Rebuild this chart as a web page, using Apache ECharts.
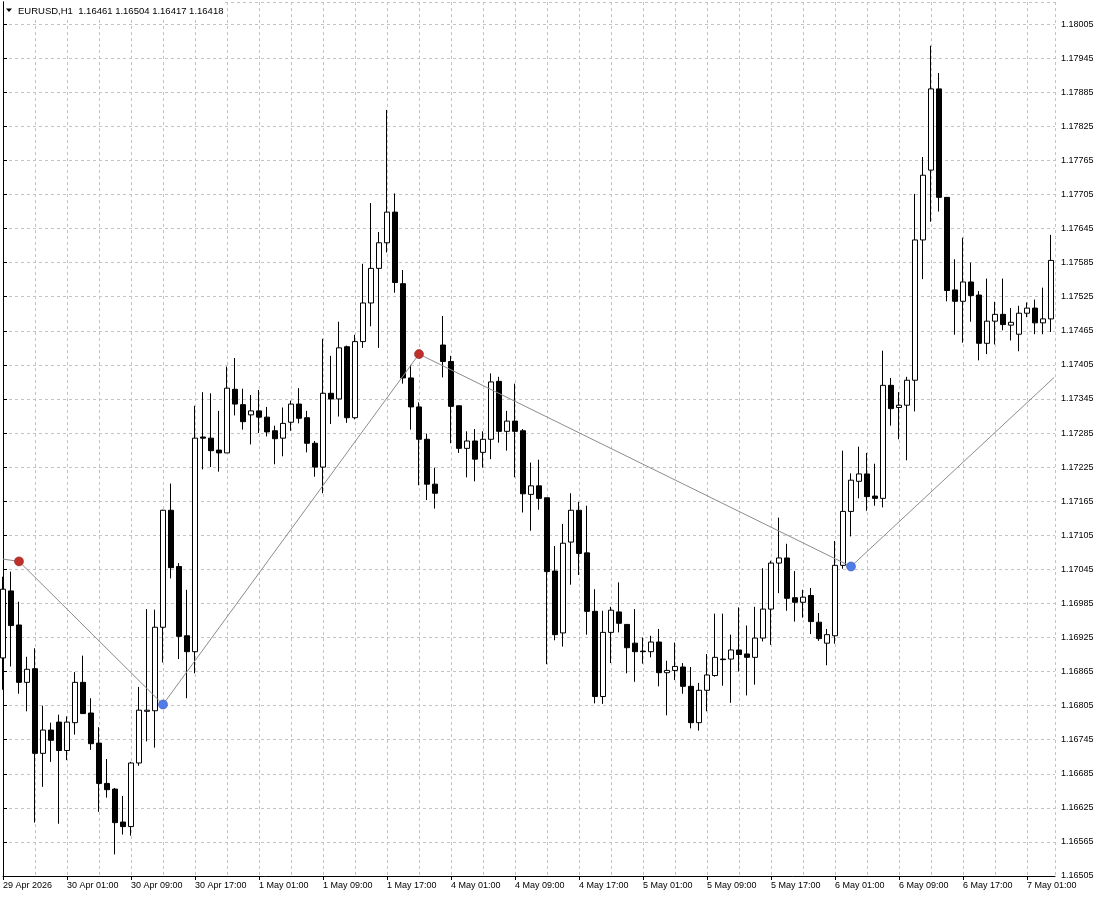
<!DOCTYPE html>
<html>
<head>
<meta charset="utf-8">
<script src="https://cdn.jsdelivr.net/npm/echarts/dist/echarts.min.js"></script>
<style>
  html, body { margin: 0; padding: 0; background: #ffffff; }
  #chart { width: 1100px; height: 900px; }
</style>
</head>
<body>
<div id="chart"></div>
<script>
// ---------- data ----------
const symbolName = 'EURUSD,H1';
const headerValues = ['1.16461', '1.16504', '1.16417', '1.16418'];

// hourly bars: [day label, first hour, last hour]
const daySegments = [
  ['29 Apr', 17, 23],
  ['30 Apr', 0, 23],
  ['1 May', 0, 23],
  ['4 May', 0, 23],
  ['5 May', 0, 23],
  ['6 May', 0, 23],
  ['7 May', 0, 4]
];
const firstLabel = '29 Apr 2026';

const openPrices = [
  1.16889,1.17007,1.16947,1.16846,1.16870,1.16721,1.16762,1.16776,1.16726,1.16775,
  1.16846,1.16792,1.16739,1.16668,1.16658,1.16600,1.16592,1.16704,1.16795,1.16796,
  1.16943,1.17149,1.17050,1.16928,1.16900,1.17278,1.17276,1.17255,1.17250,1.17362,
  1.17335,1.17317,1.17324,1.17313,1.17289,1.17276,1.17304,1.17336,1.17312,1.17267,
  1.17225,1.17355,1.17345,1.17437,1.17312,1.17446,1.17514,1.17575,1.17620,1.17674,
  1.17548,1.17382,1.17331,1.17274,1.17195,1.17440,1.17411,1.17333,1.17258,1.17271,
  1.17251,1.17274,1.17376,1.17288,1.17306,1.17289,1.17177,1.17192,1.17171,1.17042,
  1.16933,1.17093,1.17149,1.17074,1.16971,1.16821,1.16934,1.16970,1.16948,1.16915,
  1.16901,1.16900,1.16917,1.16863,1.16867,1.16873,1.16839,1.16775,1.16832,1.16858,
  1.16887,1.16887,1.16903,1.16896,1.16890,1.16924,1.16975,1.17056,1.17065,1.16995,
  1.16987,1.16999,1.16952,1.16915,1.16928,1.17052,1.17147,1.17200,1.17213,1.17174,
  1.17170,1.17369,1.17330,1.17334,1.17378,1.17625,1.17748,1.17891,1.17700,1.17537,
  1.17517,1.17551,1.17528,1.17443,1.17482,1.17494,1.17475,1.17459,1.17496,1.17505,
  1.17479,1.17486
];
const highPrices = [
  1.17032,1.17041,1.16988,1.16891,1.16906,1.16805,1.16775,1.16789,1.16786,1.16864,
  1.16893,1.16818,1.16767,1.16711,1.16660,1.16646,1.16706,1.16838,1.16975,1.16974,
  1.17150,1.17196,1.17056,1.17009,1.17333,1.17357,1.17355,1.17324,1.17402,1.17417,
  1.17363,1.17352,1.17361,1.17331,1.17298,1.17330,1.17342,1.17364,1.17324,1.17271,
  1.17451,1.17421,1.17481,1.17439,1.17458,1.17583,1.17690,1.17639,1.17854,1.17707,
  1.17572,1.17405,1.17339,1.17284,1.17224,1.17491,1.17421,1.17333,1.17288,1.17292,
  1.17288,1.17390,1.17384,1.17324,1.17372,1.17292,1.17233,1.17238,1.17171,1.17086,
  1.17125,1.17179,1.17164,1.17157,1.17010,1.16972,1.16979,1.17022,1.16948,1.16975,
  1.16925,1.16928,1.16940,1.16884,1.16916,1.16880,1.16873,1.16845,1.16896,1.16967,
  1.16967,1.16930,1.16978,1.16946,1.16979,1.17047,1.17060,1.17136,1.17090,1.17042,
  1.17009,1.17012,1.16968,1.16940,1.17095,1.17254,1.17214,1.17261,1.17250,1.17231,
  1.17430,1.17382,1.17357,1.17384,1.17706,1.17771,1.17967,1.17919,1.17700,1.17591,
  1.17629,1.17585,1.17535,1.17557,1.17516,1.17557,1.17505,1.17509,1.17515,1.17520,
  1.17541,1.17634
];
const lowPrices = [
  1.16833,1.16874,1.16826,1.16795,1.16599,1.16662,1.16706,1.16597,1.16709,1.16754,
  1.16791,1.16727,1.16618,1.16643,1.16543,1.16578,1.16576,1.16699,1.16742,1.16731,
  1.16881,1.17029,1.16887,1.16818,1.16862,1.17221,1.17225,1.17217,1.17250,1.17316,
  1.17291,1.17265,1.17285,1.17279,1.17230,1.17244,1.17289,1.17302,1.17251,1.17208,
  1.17179,1.17301,1.17314,1.17303,1.17309,1.17435,1.17473,1.17435,1.17603,1.17532,
  1.17372,1.17291,1.17193,1.17167,1.17152,1.17383,1.17267,1.17250,1.17207,1.17200,
  1.17224,1.17239,1.17268,1.17254,1.17207,1.17145,1.17113,1.17150,1.16878,1.16920,
  1.16909,1.17018,1.17035,1.16930,1.16809,1.16808,1.16880,1.16934,1.16862,1.16847,
  1.16879,1.16890,1.16839,1.16788,1.16850,1.16826,1.16765,1.16761,1.16795,1.16856,
  1.16840,1.16810,1.16865,1.16823,1.16842,1.16918,1.16912,1.17003,1.16972,1.16953,
  1.16960,1.16931,1.16919,1.16876,1.16914,1.17046,1.17103,1.17170,1.17148,1.17157,
  1.17154,1.17298,1.17274,1.17237,1.17323,1.17556,1.17657,1.17675,1.17517,1.17458,
  1.17444,1.17481,1.17413,1.17424,1.17441,1.17466,1.17448,1.17429,1.17489,1.17459,
  1.17459,1.17463
];
const closePrices = [
  1.17010,1.16946,1.16846,1.16869,1.16721,1.16762,1.16744,1.16726,1.16776,1.16846,
  1.16791,1.16738,1.16668,1.16657,1.16599,1.16592,1.16704,1.16797,1.16797,1.16943,
  1.17149,1.17048,1.16927,1.16900,1.17276,1.17276,1.17254,1.17250,1.17364,1.17336,
  1.17305,1.17324,1.17313,1.17287,1.17275,1.17302,1.17336,1.17311,1.17267,1.17225,
  1.17355,1.17345,1.17435,1.17312,1.17446,1.17514,1.17575,1.17620,1.17674,1.17550,
  1.17382,1.17331,1.17274,1.17195,1.17179,1.17411,1.17332,1.17258,1.17271,1.17239,
  1.17274,1.17375,1.17288,1.17306,1.17288,1.17178,1.17192,1.17170,1.17041,1.16930,
  1.17091,1.17149,1.17073,1.16971,1.16821,1.16934,1.16973,1.16950,1.16907,1.16900,
  1.16900,1.16917,1.16863,1.16867,1.16874,1.16839,1.16775,1.16832,1.16859,1.16890,
  1.16886,1.16903,1.16895,1.16890,1.16924,1.16975,1.17056,1.17065,1.16994,1.16987,
  1.16996,1.16953,1.16923,1.16930,1.17052,1.17147,1.17202,1.17213,1.17173,1.17170,
  1.17369,1.17328,1.17334,1.17378,1.17625,1.17739,1.17891,1.17700,1.17536,1.17517,
  1.17551,1.17527,1.17443,1.17482,1.17494,1.17476,1.17480,1.17496,1.17505,1.17479,
  1.17486,1.17589
];

// zigzag turning points (bar position, price, kind)
const zigzagIndex = [0, 2, 20, 52, 106, 131.4];
const zigzagPrice = [1.17063, 1.17059, 1.16807, 1.17424, 1.17050, 1.17383];
const zigzagKind  = ['none', 'high', 'low', 'high', 'low', 'none'];

// price axis ticks
const yTickStart = 1.16505;
const yTickStep = 0.0006;
const yAxisTop = 1.18044;

// ---------- build ----------
const pad2 = n => (n < 10 ? '0' : '') + n;
const barLabels = [];
daySegments.forEach(([day, h0, h1]) => {
  for (let h = h0; h <= h1; h++) barLabels.push(day + ' ' + pad2(h) + ':00');
});
barLabels[0] = firstLabel;

const candleData = openPrices.map((o, i) => [i, o, closePrices[i], lowPrices[i], highPrices[i]]);
const zigzagData = zigzagIndex.map((x, i) => {
  const kind = zigzagKind[i];
  const item = { value: [x, zigzagPrice[i]] };
  if (kind === 'none') {
    item.symbol = 'none';
  } else {
    item.symbol = 'circle';
    item.symbolSize = 9;
    item.itemStyle = kind === 'high'
      ? { color: '#c0302b', borderColor: '#8f1f1b', borderWidth: 0.6 }
      : { color: '#4f7ce6', borderColor: '#3558b8', borderWidth: 0.6 };
  }
  return item;
});

const fontFamily = '"Liberation Sans", Arial, sans-serif';
const barCount = openPrices.length;

const chart = echarts.init(document.getElementById('chart'), null, { renderer: 'canvas' });
chart.setOption({
  animation: false,
  backgroundColor: '#ffffff',
  grid: {
    left: 3, top: 2, right: 45, bottom: 24, show: false
  },
  xAxis: [
    {
      type: 'value', min: 0, max: 131.5, interval: 8, position: 'bottom',
      axisLine: { show: true, onZero: false, lineStyle: { color: '#000000', width: 1 } },
      axisTick: { show: true, length: 4, lineStyle: { color: '#000000' } },
      axisLabel: {
        show: true, align: 'left', margin: 5, color: '#000000',
        fontSize: 9, fontFamily: fontFamily, showMaxLabel: false,
        formatter: v => (Number.isInteger(v) && v % 8 === 0 && v < barCount) ? barLabels[v] : ''
      },
      splitLine: { show: false }
    },
    {
      type: 'value', min: 0, max: 131.5, interval: 4, position: 'bottom',
      axisLine: { show: false }, axisTick: { show: false }, axisLabel: { show: false },
      splitLine: { show: true, lineStyle: { color: '#c3c3c3', width: 1, type: [3, 3] } }
    }
  ],
  yAxis: [
    {
      type: 'value', position: 'right', min: yTickStart, max: yAxisTop, interval: yTickStep,
      axisLine: { show: true, lineStyle: { color: '#000000', width: 1 } },
      axisTick: { show: true, length: 4, lineStyle: { color: '#000000' } },
      axisLabel: {
        color: '#000000', fontSize: 9, fontFamily: fontFamily, margin: 6,
        showMaxLabel: false, formatter: v => v.toFixed(5)
      },
      splitLine: { show: true, lineStyle: { color: '#c3c3c3', width: 1, type: [3, 3] } }
    },
    {
      type: 'value', position: 'left', min: yTickStart, max: yAxisTop,
      axisLine: { show: true, onZero: false, lineStyle: { color: '#000000', width: 1 } },
      axisTick: { show: false }, axisLabel: { show: false }, splitLine: { show: false }
    }
  ],
  series: [
    {
      type: 'candlestick',
      xAxisIndex: 0,
      yAxisIndex: 0,
      data: candleData,
      encode: { x: 0, y: [1, 2, 3, 4] },
      barWidth: 5,
      large: false,
      silent: true,
      itemStyle: {
        color: '#ffffff', color0: '#000000',
        borderColor: '#000000', borderColor0: '#000000', borderWidth: 1
      },
      z: 2
    },
    {
      type: 'line',
      xAxisIndex: 0,
      yAxisIndex: 0,
      data: zigzagData,
      showSymbol: true,
      silent: true,
      clip: true,
      lineStyle: { color: '#8c8c8c', width: 1 },
      z: 3
    }
  ],
  graphic: [
    { type: 'rect', z: 100, silent: true, shape: { x: 4, y: 2, width: 219, height: 17 }, style: { fill: '#ffffff' } },
    { type: 'polygon', z: 101, silent: true, shape: { points: [[6, 8.5], [12, 8.5], [9, 12]] }, style: { fill: '#000000' } },
    {
      type: 'text', z: 101, silent: true, x: 18, y: 11,
      style: {
        text: symbolName + '  ' + headerValues.join(' '),
        fill: '#000000', fontSize: 9.5, fontFamily: fontFamily, verticalAlign: 'middle'
      }
    }
  ]
});
</script>
</body>
</html>
